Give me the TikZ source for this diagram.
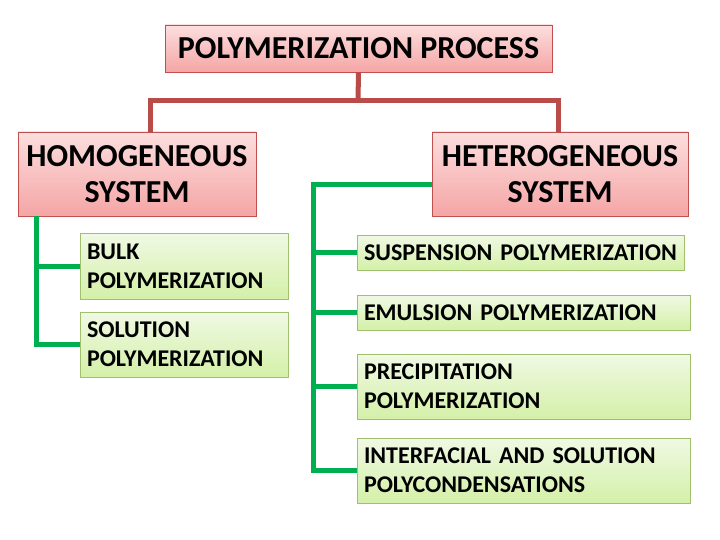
\documentclass[tikz,border=0pt]{standalone}
\usepackage{fontspec}
\setmainfont{Carlito}
\definecolor{boxred}{RGB}{192,80,77}
\definecolor{linered}{RGB}{185,75,72}
\definecolor{pinktop}{RGB}{252,222,222}
\definecolor{pinkbot}{RGB}{245,165,165}
\definecolor{greentop}{RGB}{240,249,228}
\definecolor{greenbot}{RGB}{212,240,168}
\definecolor{boxgreen}{RGB}{160,192,110}
\definecolor{linegreen}{RGB}{0,176,80}
\begin{document}
\begin{tikzpicture}[x=1pt,y=-1pt,
    headbox/.style={draw=boxred, line width=0.8pt, top color=pinktop, bottom color=pinkbot,
        align=center, inner sep=0pt, font=\bfseries\fontsize{32}{36}\selectfont},
    subbox/.style={draw=boxgreen, line width=0.8pt, top color=greentop, bottom color=greenbot,
        align=left, inner xsep=7pt, inner ysep=0pt, font=\bfseries\fontsize{24}{29}\selectfont},
    redline/.style={draw=linered, line width=5pt},
    greenline/.style={draw=linegreen, line width=5pt}]
\useasboundingbox[fill=white] (0,0) rectangle (720,540);

\node[headbox, minimum width=387pt, minimum height=47pt] (proc) at (358.5,48.5) {POLYMERIZATION PROCESS};
\node[headbox, minimum width=238pt, minimum height=84pt] (homo) at (137,174) {HOMOGENEOUS\\SYSTEM};
\node[headbox, minimum width=256pt, minimum height=84pt] (hetero) at (560,174) {HETEROGENEOUS\\SYSTEM};

\node[subbox, text width=194pt, minimum height=66pt] (bulk) at (184,266) {BULK\\POLYMERIZATION};
\node[subbox, text width=194pt, minimum height=65pt] (solution) at (184,344.5) {SOLUTION\\POLYMERIZATION};

\node[subbox, text width=313pt, minimum height=35pt] (susp) at (520.5,252.5) {SUSPENSION POLYMERIZATION};
\node[subbox, text width=319pt, minimum height=35pt] (emul) at (523.5,312.5) {EMULSION POLYMERIZATION};
\node[subbox, text width=319pt, minimum height=65pt] (precip) at (523.5,386.5) {PRECIPITATION\\POLYMERIZATION};
\node[subbox, text width=319pt, minimum height=65pt] (interf) at (523.5,470.5) {INTERFACIAL AND SOLUTION\\POLYCONDENSATIONS};

\coordinate (rj) at (358,101);
\coordinate (hbus) at (313,185);

\draw[redline] (proc.south) -- (rj);
\draw[redline] ([xshift=13pt]homo.north) |- (rj) -| ([xshift=-2pt]hetero.north);

\draw[greenline] ([xshift=19pt]homo.south west) |- (bulk.west);
\draw[greenline] ([xshift=19pt]homo.south west) |- (solution.west);

\draw[greenline] (hetero.west |- hbus) -- (hbus) |- (interf.west);
\draw[greenline] (hbus |- susp.west) -- (susp.west);
\draw[greenline] (hbus |- emul.west) -- (emul.west);
\draw[greenline] (hbus |- precip.west) -- (precip.west);
\end{tikzpicture}
\end{document}
